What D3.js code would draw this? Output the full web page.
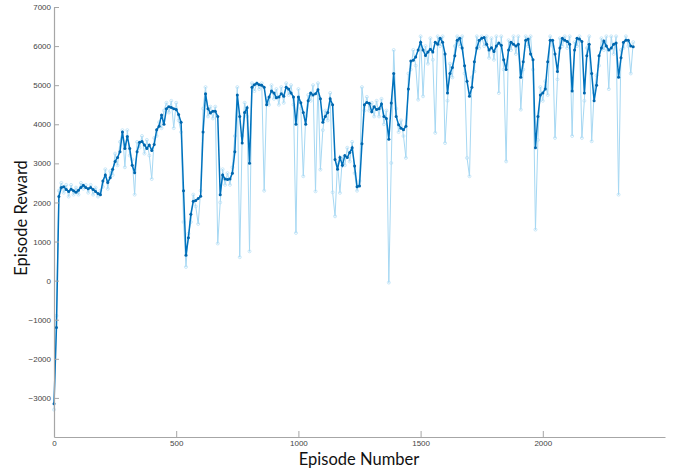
<!DOCTYPE html>
<html>
<head>
<meta charset="utf-8">
<script src="https://cdn.jsdelivr.net/npm/d3@7"></script>
<style>
  body { margin: 0; background: #fff; }
  svg { display: block; }
</style>
</head>
<body>
<script>
// episode numbers are sampled every 10 episodes
var step = 10;

// average reward (dark blue curve)
var avgReward = [
  -3150,-1200,2150,2380,2400,2330,2280,2340,2300,2260,
  2310,2380,2440,2380,2350,2380,2330,2280,2230,2200,
  2550,2700,2510,2630,2850,3050,3150,3300,3800,3380,
  3690,3380,2950,2760,3300,3540,3560,3470,3380,3470,
  3330,3480,3860,3950,4240,4000,4400,4450,4430,4400,
  4380,4250,4050,2300,650,1100,1700,2030,2050,2100,
  2160,3800,4780,4400,4290,4330,4330,4200,2200,2700,
  2600,2590,2600,2750,3300,4750,4200,3520,4300,4420,
  3000,4950,5010,5050,5010,5000,4950,4500,4700,4850,
  4800,4680,4700,4780,4720,4950,4900,4800,4700,4000,
  4700,4550,4300,4000,4600,4800,4750,4780,4880,4650,
  4050,4200,4300,4650,4500,3100,2850,3150,2950,3200,
  3150,3280,3400,2930,2400,2420,3500,4500,4560,4540,
  4320,4450,4380,4400,4520,4200,4150,3620,4545,5300,
  4200,3990,3900,3860,3950,4900,5620,5640,5720,5900,
  6100,5900,5760,5850,5920,5850,6100,6050,6200,6100,
  5800,4800,5300,5450,5750,6150,6200,5950,5500,5100,
  4720,4950,5600,5950,6150,6200,6220,6050,5900,5960,
  5860,6000,6080,6020,5650,5400,5900,6100,6050,6000,
  6050,5200,5600,6150,6180,5800,5650,3400,4200,4750,
  4800,4900,5600,6150,6150,5800,5350,5950,6200,6150,
  6120,6050,4850,5900,6200,6180,6120,4800,5750,6050,
  5300,4600,5000,5750,5950,6130,6000,5900,5950,6050,
  6080,5200,5700,6100,6150,6150,6000,5980
];

// episode reward (light blue curve)
var episodeReward = [
  -3300,-900,2300,2500,2250,2450,2150,2450,2200,2380,
  2200,2500,2350,2450,2250,2450,2200,2380,2150,2300,
  2400,2850,2350,2800,2700,3250,2950,3550,3850,2900,
  3850,3200,3100,2200,3550,3400,3700,3250,3600,3200,
  2600,3650,3700,4050,3900,4350,4550,4300,4600,3900,
  4550,4100,3800,1500,350,1200,1500,2200,1900,1450,
  2300,4400,4950,4200,4450,4150,4450,950,2000,2850,
  2450,2750,2450,2900,3700,4950,600,3700,4550,4200,
  750,5050,4850,5050,4900,5050,2300,4650,4500,5000,
  4650,4900,4500,4950,4550,5050,4750,5000,4500,1220,
  4900,4400,2670,4200,4750,4600,5000,2285,5050,2840,
  3850,4350,4100,4800,2260,1645,3000,2245,3150,2950,
  3400,3050,3550,2750,2300,2550,4950,4350,4700,4350,
  4550,4200,4600,4200,4650,4000,4350,-50,3010,5900,
  4400,3800,4100,3700,3140,5300,5400,5900,5500,4630,
  6250,4715,6000,5550,6200,5650,3780,6250,6000,6250,
  3520,4600,5550,5200,6000,6250,6000,6250,5300,3140,
  2670,5200,5350,6250,5950,6250,6000,6250,5700,6200,
  5650,6250,4800,6250,5400,3050,6150,5900,6250,5800,
  6250,4375,5400,6250,6000,6250,5400,1305,3600,4950,
  4600,5100,4750,6250,6000,3650,5150,6200,6000,6250,
  5950,6250,3700,6100,6000,6250,3650,4600,5950,6250,
  3565,4800,5250,5500,6200,5900,6250,4900,6250,5800,
  6250,2200,5900,5950,6250,6000,5300,6100
];

var xTicks = [0, 500, 1000, 1500, 2000];
var yTicks = [-3000, -2000, -1000, 0, 1000, 2000, 3000, 4000, 5000, 6000, 7000];

var width = 681, height = 470;
var x = d3.scaleLinear().domain([0, 2500]).range([54, 665]);
var y = d3.scaleLinear().domain([-4000, 7000]).range([437, 7]);

var svg = d3.select('body').append('svg')
  .attr('width', width)
  .attr('height', height);

var raw = episodeReward.map(function(v, i){ return {ep: i*step, v: v}; });
var avg = avgReward.map(function(v, i){ return {ep: i*step, v: v}; });

var line = d3.line()
  .x(function(d){ return x(d.ep); })
  .y(function(d){ return y(d.v); });

// light blue episode reward
svg.append('path')
  .datum(raw)
  .attr('d', line)
  .attr('fill', 'none')
  .attr('stroke', '#a6d8f3')
  .attr('stroke-width', 1);

svg.selectAll('.rawdot')
  .data(raw)
  .enter()
  .append('circle')
  .attr('class', 'rawdot')
  .attr('cx', function(d){ return x(d.ep); })
  .attr('cy', function(d){ return y(d.v); })
  .attr('r', 1.5)
  .attr('fill', 'none')
  .attr('stroke', '#b5def5')
  .attr('stroke-width', 0.7);

// dark blue average reward
svg.append('path')
  .datum(avg)
  .attr('d', line)
  .attr('fill', 'none')
  .attr('stroke', '#0072bd')
  .attr('stroke-width', 1.5);

svg.selectAll('.avgdot')
  .data(avg)
  .enter()
  .append('circle')
  .attr('class', 'avgdot')
  .attr('cx', function(d){ return x(d.ep); })
  .attr('cy', function(d){ return y(d.v); })
  .attr('r', 1.5)
  .attr('fill', '#0066ad');

// axes, matlab style: ticks point inward
var xAxis = d3.axisBottom(x).tickValues(xTicks).tickFormat(d3.format('d'))
  .tickSizeInner(-6).tickSizeOuter(0).tickPadding(3);
var yAxis = d3.axisLeft(y).tickValues(yTicks).tickFormat(d3.format('d'))
  .tickSizeInner(-5).tickSizeOuter(0).tickPadding(3);

var gx = svg.append('g')
  .attr('transform', 'translate(0,' + y(-4000) + ')')
  .call(xAxis);
var gy = svg.append('g')
  .attr('transform', 'translate(' + x(0) + ',0)')
  .call(yAxis);

[gx, gy].forEach(function(g){
  g.select('.domain').attr('stroke', '#a6a6a6').attr('stroke-width', 1.2);
  g.selectAll('.tick line').attr('stroke', '#a6a6a6');
  g.selectAll('.tick text')
    .attr('fill', '#444')
    .style('font-family', 'Liberation Sans, Arial, sans-serif')
    .style('font-size', '8px');
});

svg.append('text')
  .attr('x', 359)
  .attr('y', 465)
  .attr('text-anchor', 'middle')
  .style('font-family', 'Lato, sans-serif')
  .style('font-size', '16.5px')
  .attr('fill', '#111')
  .text('Episode Number');

svg.append('text')
  .attr('transform', 'translate(27,218) rotate(-90)')
  .attr('text-anchor', 'middle')
  .style('font-family', 'Lato, sans-serif')
  .style('font-size', '16.5px')
  .attr('fill', '#111')
  .text('Episode Reward');
</script>
</body>
</html>
